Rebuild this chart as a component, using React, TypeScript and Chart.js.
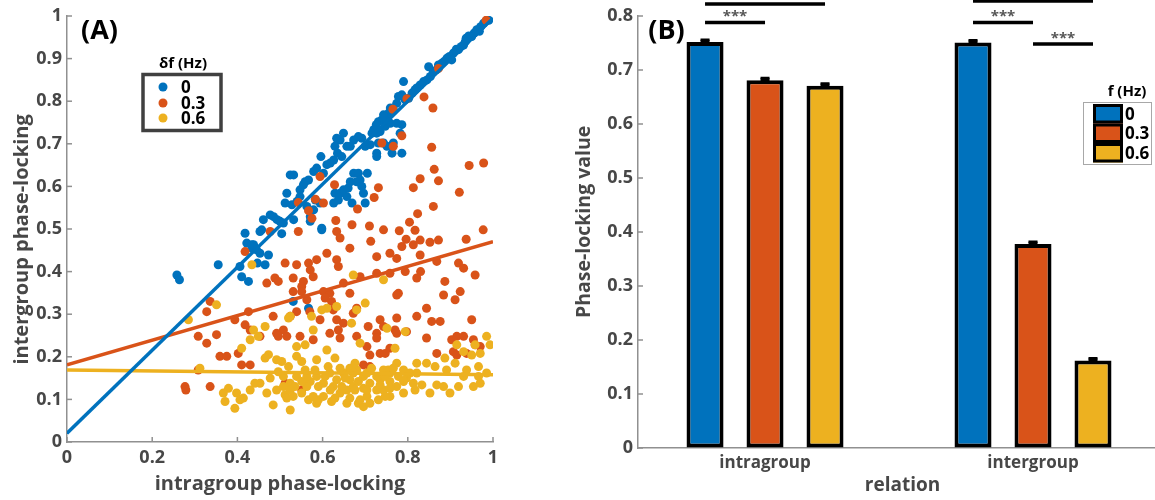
import React, { useEffect, useRef } from 'react';
import { Chart, registerables } from 'chart.js';
Chart.register(...registerables);

const FONT = '"Open Sans", "DejaVu Sans", sans-serif';
const TEXT_GRAY = '#474747';
const AXIS_GRAY = '#909090';
const BLUE = '#0072BD';
const RED = '#D95319';
const YELLOW = '#EDB120';

// ---------- Panel A data ----------
const seriesLabels = ['0', '0.3', '0.6'];
const legendTitleA = 'δf (Hz)';
const legendTitleB = 'f (Hz)';

const bluePts: [number, number][] = [
  [0.99,0.99],[0.986,0.99],[0.978,0.983],[0.971,0.975],[0.968,0.964],[0.962,0.968],[0.956,0.96],[0.95,0.952],[0.943,0.953],[0.937,0.948],
  [0.935,0.94],[0.931,0.932],[0.925,0.928],[0.919,0.921],[0.914,0.922],[0.907,0.913],[0.903,0.897],[0.898,0.905],[0.892,0.901],[0.885,0.893],
  [0.88,0.889],[0.872,0.885],[0.868,0.874],[0.86,0.87],[0.849,0.881],[0.853,0.858],[0.845,0.85],[0.837,0.846],[0.829,0.838],[0.821,0.831],
  [0.817,0.827],[0.81,0.819],[0.802,0.807],[0.794,0.803],[0.79,0.846],[0.786,0.815],[0.778,0.811],[0.774,0.795],[0.766,0.78],[0.759,0.784],
  [0.755,0.772],[0.751,0.764],[0.743,0.768],[0.739,0.756],[0.731,0.752],[0.726,0.745],[0.72,0.733],[0.716,0.725],[0.727,0.725],[0.735,0.729],
  [0.747,0.741],[0.759,0.748],[0.774,0.748],[0.786,0.745],[0.782,0.725],[0.766,0.702],[0.751,0.694],[0.743,0.702],[0.731,0.702],[0.727,0.678],
  [0.727,0.67],[0.763,0.678],[0.786,0.678],[0.712,0.698],[0.7,0.694],[0.692,0.713],[0.684,0.717],[0.673,0.709],[0.665,0.694],[0.657,0.694],
  [0.649,0.725],[0.641,0.709],[0.633,0.713],[0.629,0.694],[0.635,0.678],[0.645,0.67],[0.626,0.662],[0.618,0.655],[0.61,0.651],[0.602,0.631],
  [0.596,0.67],[0.586,0.643],[0.579,0.635],[0.567,0.615],[0.559,0.611],[0.555,0.604],[0.532,0.627],[0.524,0.627],[0.547,0.592],[0.516,0.584],
  [0.512,0.561],[0.528,0.557],[0.54,0.565],[0.547,0.576],[0.563,0.553],[0.571,0.529],[0.579,0.545],[0.583,0.568],[0.594,0.561],[0.626,0.561],
  [0.637,0.568],[0.629,0.584],[0.641,0.584],[0.649,0.592],[0.66,0.596],[0.665,0.611],[0.673,0.631],[0.684,0.631],[0.688,0.615],[0.68,0.611],
  [0.692,0.6],[0.696,0.584],[0.7,0.561],[0.705,0.631],[0.669,0.561],[0.657,0.576],[0.477,0.533],[0.485,0.529],[0.493,0.522],[0.5,0.518],
  [0.508,0.514],[0.461,0.522],[0.457,0.498],[0.438,0.463],[0.434,0.455],[0.532,0.522],[0.598,0.502],[0.571,0.518],[0.418,0.49],[0.453,0.494],
  [0.504,0.489],[0.422,0.467],[0.434,0.463],[0.445,0.451],[0.453,0.443],[0.473,0.439],[0.465,0.416],[0.447,0.42],[0.355,0.416],[0.258,0.392],
  [0.264,0.381],[0.406,0.412],[0.41,0.388],[0.426,0.377],[0.531,0.33],[0.567,0.314],[0.598,0.498],
];

const redPts: [number, number][] = [
  [0.984,0.99],[0.872,0.877],[0.798,0.806],[0.838,0.81],[0.859,0.784],[0.765,0.781],[0.786,0.719],[0.739,0.702],[0.766,0.694],[0.856,0.692],
  [0.944,0.649],[0.978,0.655],[0.862,0.64],[0.872,0.613],[0.829,0.618],[0.813,0.597],[0.921,0.586],[0.731,0.597],[0.721,0.574],[0.86,0.553],
  [0.823,0.536],[0.594,0.623],[0.628,0.604],[0.543,0.562],[0.583,0.57],[0.602,0.561],[0.567,0.543],[0.575,0.525],[0.682,0.547],[0.631,0.52],
  [0.669,0.51],[0.71,0.507],[0.743,0.498],[0.78,0.496],[0.804,0.516],[0.817,0.497],[0.796,0.476],[0.813,0.463],[0.829,0.474],[0.852,0.469],
  [0.872,0.474],[0.937,0.476],[0.977,0.498],[0.543,0.494],[0.633,0.494],[0.641,0.479],[0.713,0.471],[0.477,0.494],[0.664,0.455],[0.786,0.459],
  [0.61,0.443],[0.633,0.428],[0.637,0.412],[0.727,0.435],[0.758,0.443],[0.774,0.431],[0.829,0.439],[0.868,0.424],[0.919,0.42],[0.931,0.408],
  [0.958,0.392],[0.512,0.42],[0.539,0.416],[0.567,0.42],[0.586,0.428],[0.571,0.404],[0.578,0.388],[0.555,0.377],[0.531,0.385],[0.488,0.385],
  [0.496,0.377],[0.469,0.373],[0.551,0.365],[0.551,0.353],[0.531,0.353],[0.602,0.353],[0.617,0.349],[0.606,0.338],[0.621,0.33],[0.625,0.31],
  [0.664,0.349],[0.649,0.373],[0.688,0.388],[0.727,0.396],[0.758,0.396],[0.794,0.4],[0.83,0.4],[0.821,0.385],[0.887,0.377],[0.778,0.349],
  [0.774,0.345],[0.884,0.345],[0.911,0.334],[0.923,0.353],[0.844,0.314],[0.594,0.287],[0.633,0.287],[0.68,0.314],[0.649,0.279],[0.672,0.302],
  [0.735,0.287],[0.743,0.271],[0.774,0.291],[0.821,0.295],[0.856,0.283],[0.876,0.283],[0.95,0.287],[0.563,0.334],[0.57,0.306],[0.539,0.306],
  [0.524,0.295],[0.484,0.295],[0.426,0.306],[0.394,0.287],[0.418,0.275],[0.43,0.263],[0.453,0.248],[0.508,0.263],[0.516,0.248],[0.492,0.255],
  [0.496,0.248],[0.547,0.248],[0.578,0.24],[0.617,0.255],[0.637,0.263],[0.641,0.244],[0.68,0.248],[0.707,0.271],[0.727,0.255],[0.727,0.244],
  [0.77,0.263],[0.774,0.255],[0.797,0.259],[0.844,0.244],[0.903,0.24],[0.915,0.248],[0.931,0.248],[0.954,0.24],[0.958,0.228],[0.97,0.224],
  [0.704,0.224],[0.711,0.204],[0.735,0.208],[0.747,0.208],[0.758,0.22],[0.868,0.208],[0.907,0.212],[0.915,0.204],[0.938,0.208],[0.308,0.248],
  [0.328,0.232],[0.351,0.252],[0.336,0.33],[0.328,0.306],[0.359,0.201],[0.375,0.201],[0.402,0.208],[0.41,0.181],[0.43,0.181],[0.308,0.169],
  [0.277,0.13],[0.279,0.122],[0.336,0.13],[0.696,0.181],[0.711,0.177],[0.512,0.138],[0.551,0.122],[0.418,0.447],
];

const yellowPts: [number, number][] = [
  [0.285,0.287],[0.351,0.322],[0.434,0.416],[0.672,0.392],[0.743,0.381],[0.598,0.31],[0.61,0.314],[0.633,0.318],[0.7,0.326],[0.68,0.31],
  [0.574,0.295],[0.524,0.295],[0.52,0.291],[0.465,0.271],[0.438,0.263],[0.449,0.248],[0.578,0.263],[0.668,0.279],[0.751,0.267],[0.794,0.259],
  [0.43,0.24],[0.41,0.22],[0.539,0.224],[0.559,0.228],[0.61,0.216],[0.688,0.232],[0.77,0.22],[0.985,0.248],[0.993,0.228],[0.958,0.228],
  [0.931,0.212],[0.95,0.204],[0.97,0.208],[0.887,0.197],[0.911,0.185],[0.312,0.173],[0.473,0.205],[0.465,0.197],[0.492,0.193],[0.504,0.189],
  [0.539,0.201],[0.551,0.189],[0.586,0.193],[0.629,0.197],[0.664,0.173],[0.774,0.185],[0.821,0.185],[0.864,0.177],[0.966,0.177],[0.985,0.162],
  [0.97,0.138],[0.931,0.154],[0.891,0.169],[0.868,0.134],[0.884,0.13],[0.852,0.115],[0.899,0.115],[0.954,0.13],[0.821,0.162],[0.797,0.15],
  [0.79,0.115],[0.774,0.13],[0.758,0.162],[0.743,0.169],[0.735,0.146],[0.727,0.122],[0.743,0.122],[0.711,0.138],[0.696,0.154],[0.68,0.169],
  [0.664,0.146],[0.649,0.162],[0.633,0.146],[0.617,0.162],[0.602,0.138],[0.586,0.154],[0.571,0.142],[0.559,0.169],[0.539,0.154],[0.524,0.138],
  [0.508,0.154],[0.496,0.165],[0.477,0.15],[0.453,0.138],[0.441,0.138],[0.43,0.122],[0.469,0.115],[0.492,0.122],[0.512,0.111],[0.516,0.103],
  [0.531,0.107],[0.551,0.115],[0.567,0.099],[0.586,0.091],[0.59,0.099],[0.602,0.107],[0.629,0.103],[0.641,0.115],[0.664,0.103],[0.684,0.091],
  [0.696,0.083],[0.704,0.107],[0.379,0.126],[0.367,0.115],[0.371,0.095],[0.394,0.079],[0.398,0.115],[0.414,0.103],[0.406,0.099],[0.484,0.087],
  [0.524,0.075],[0.621,0.095],[0.657,0.091],[0.758,0.107],[0.696,0.126],[0.672,0.13],[0.625,0.13],[0.563,0.13],[0.508,0.13],[0.758,0.142],
  [0.79,0.169],[0.844,0.185],[0.938,0.169],[0.966,0.154],[0.919,0.13],[0.833,0.134],[0.813,0.138],[0.676,0.185],[0.613,0.177],[0.582,0.169],
  [0.52,0.177],[0.915,0.228],
  [0.641,0.173],[0.653,0.15],[0.672,0.162],[0.684,0.142],[0.704,0.162],[0.715,0.173],[0.727,0.154],[0.735,0.134],[0.747,0.154],[0.754,0.169],
  [0.766,0.173],[0.778,0.154],[0.79,0.142],[0.805,0.162],[0.817,0.122],[0.747,0.107],[0.731,0.099],[0.711,0.091],[0.688,0.099],[0.676,0.122],
  [0.657,0.122],[0.645,0.13],[0.618,0.122],[0.606,0.154],[0.59,0.13],[0.578,0.107],[0.563,0.154],[0.551,0.142],[0.535,0.13],[0.524,0.122],
  [0.704,0.122],[0.758,0.126],
];

// regression lines: [x, y] endpoints
const fitBlue: [number, number][] = [[0, 0.0205], [1, 0.995]];
const fitRed: [number, number][] = [[0, 0.181], [1, 0.47]];
const fitYellow: [number, number][] = [[0, 0.169], [1, 0.158]];

// ---------- Panel B data ----------
const relations = ['intragroup', 'intergroup'];
const relationPos = [1, 2];
const plvF0 = [0.752, 0.751];
const plvF03 = [0.681, 0.378];
const plvF06 = [0.671, 0.162];
const errF0 = [0.004, 0.004];
const errF03 = [0.004, 0.004];
const errF06 = [0.004, 0.004];
// significance brackets: [relation index, bar from, bar to, y level, label]
const sigBrackets: [number, number, number, number, string][] = [
  [0, 0, 2, 0.822, ''],
  [0, 0, 1, 0.788, '***'],
  [1, 0, 2, 0.828, ''],
  [1, 0, 1, 0.788, '***'],
  [1, 1, 2, 0.748, '***'],
];

const fmtTick = (v: number) => String(Math.round(v * 10) / 10);
const toXY = (arr: [number, number][]) => arr.map(([x, y]) => ({ x, y }));

const inwardTicks = (axes: string[]) => ({
  id: 'inwardTicks',
  afterDraw(chart: any) {
    const { ctx, chartArea } = chart;
    ctx.save();
    ctx.strokeStyle = AXIS_GRAY;
    ctx.lineWidth = 1.5;
    axes.forEach((id) => {
      const s = chart.scales[id];
      s.ticks.forEach((t: any) => {
        const p = s.getPixelForValue(t.value);
        ctx.beginPath();
        if (id === 'y') {
          ctx.moveTo(chartArea.left, p);
          ctx.lineTo(chartArea.left + 5, p);
        } else {
          ctx.moveTo(p, chartArea.bottom);
          ctx.lineTo(p, chartArea.bottom - 5);
        }
        ctx.stroke();
      });
    });
    ctx.restore();
  },
});

const panelAExtras = {
  id: 'panelAExtras',
  afterDraw(chart: any) {
    const ctx = chart.ctx;
    ctx.save();
    ctx.fillStyle = '#000';
    ctx.font = `bold 27px ${FONT}`;
    ctx.textAlign = 'center';
    ctx.textBaseline = 'middle';
    ctx.fillText('(A)', 99.5, 31);
    // legend
    ctx.font = `bold 15px ${FONT}`;
    ctx.fillText(legendTitleA, 183, 64);
    ctx.strokeStyle = '#404040';
    ctx.lineWidth = 3.5;
    ctx.strokeRect(143, 74.5, 78, 56);
    const entries = [
      { label: seriesLabels[0], color: BLUE },
      { label: seriesLabels[1], color: RED },
      { label: seriesLabels[2], color: YELLOW },
    ];
    const rows = [87, 103, 118];
    ctx.font = `bold 17px ${FONT}`;
    ctx.textAlign = 'left';
    entries.forEach((e, i) => {
      ctx.fillStyle = e.color;
      ctx.beginPath();
      ctx.arc(163, rows[i], 4.5, 0, Math.PI * 2);
      ctx.fill();
      ctx.fillStyle = '#000';
      ctx.fillText(e.label, 181, rows[i] + 1);
    });
    ctx.restore();
  },
};

const panelBExtras = {
  id: 'panelBExtras',
  afterDraw(chart: any) {
    const ctx = chart.ctx;
    const yS = chart.scales.y;
    const errs = [errF0, errF03, errF06];
    ctx.save();
    // error bars
    ctx.strokeStyle = '#000';
    ctx.lineWidth = 2.5;
    chart.data.datasets.forEach((ds: any, i: number) => {
      const meta = chart.getDatasetMeta(i);
      meta.data.forEach((bar: any, j: number) => {
        const v = ds.data[j].y;
        const e = errs[i][j];
        const x = bar.x;
        const y1 = yS.getPixelForValue(v - e);
        const y2 = yS.getPixelForValue(v + e);
        ctx.beginPath();
        ctx.moveTo(x, y1); ctx.lineTo(x, y2);
        ctx.moveTo(x - 4.5, y1); ctx.lineTo(x + 4.5, y1);
        ctx.moveTo(x - 4.5, y2); ctx.lineTo(x + 4.5, y2);
        ctx.stroke();
        ctx.fillStyle = '#000';
        ctx.fillRect(x - 4.5, y2, 9, y1 - y2);
      });
    });
    // significance brackets
    sigBrackets.forEach(([rel, a, b, lvl, lab]) => {
      const xa = chart.getDatasetMeta(a).data[rel].x;
      const xb = chart.getDatasetMeta(b).data[rel].x;
      const y = yS.getPixelForValue(lvl);
      ctx.strokeStyle = '#000';
      ctx.lineWidth = 3.5;
      ctx.beginPath();
      ctx.moveTo(xa, y); ctx.lineTo(xb, y);
      ctx.stroke();
      if (lab) {
        ctx.fillStyle = '#555';
        ctx.font = `bold 15px ${FONT}`;
        ctx.textAlign = 'center';
        ctx.textBaseline = 'alphabetic';
        ctx.fillText(lab, (xa + xb) / 2, y - 1);
      }
    });
    // panel label
    ctx.fillStyle = '#000';
    ctx.font = `bold 27px ${FONT}`;
    ctx.textAlign = 'center';
    ctx.textBaseline = 'middle';
    ctx.fillText('(B)', 106.5, 31);
    // legend
    ctx.font = `bold 15px ${FONT}`;
    ctx.fillText(legendTitleB, 567, 92);
    ctx.strokeStyle = '#a8a8a8';
    ctx.lineWidth = 1;
    ctx.strokeRect(523.5, 102.5, 68, 62);
    const top = 104;
    const h = 19.5;
    ctx.font = `bold 17px ${FONT}`;
    ctx.textAlign = 'left';
    chart.data.datasets.forEach((ds: any, i: number) => {
      const y0 = top + i * h;
      ctx.fillStyle = ds.backgroundColor;
      ctx.fillRect(533, y0, 30, h);
      ctx.strokeStyle = '#000';
      ctx.lineWidth = 3;
      ctx.strokeRect(534.5, y0 + 1.5, 27, h - 3);
      ctx.fillStyle = '#000';
      ctx.fillText(ds.label, 565, y0 + h / 2 + 1);
    });
    ctx.restore();
  },
};

const tickFont = { family: FONT, size: 18, weight: 'bold' as const };

export default function App() {
  const refA = useRef<HTMLCanvasElement>(null);
  const refB = useRef<HTMLCanvasElement>(null);

  useEffect(() => {
    const chartA = new Chart(refA.current as HTMLCanvasElement, {
      type: 'scatter',
      data: {
        datasets: [
          { type: 'line', label: 'fit0', data: toXY(fitBlue), borderColor: BLUE, borderWidth: 3.5, pointRadius: 0, fill: false, order: 0 } as any,
          { type: 'line', label: 'fit0.3', data: toXY(fitRed), borderColor: RED, borderWidth: 3.5, pointRadius: 0, fill: false, order: 1 } as any,
          { type: 'line', label: 'fit0.6', data: toXY(fitYellow), borderColor: YELLOW, borderWidth: 3.5, pointRadius: 0, fill: false, order: 2 } as any,
          { label: seriesLabels[2], data: toXY(yellowPts), backgroundColor: YELLOW, pointRadius: 4.5, borderWidth: 0, order: 3 },
          { label: seriesLabels[1], data: toXY(redPts), backgroundColor: RED, pointRadius: 4.5, borderWidth: 0, order: 4 },
          { label: seriesLabels[0], data: toXY(bluePts), backgroundColor: BLUE, pointRadius: 4.5, borderWidth: 0, order: 5 },
        ],
      },
      options: {
        responsive: false,
        animation: false,
        devicePixelRatio: 1,
        layout: { padding: { top: 16, right: 67, left: 0, bottom: 0 } },
        plugins: { legend: { display: false }, tooltip: { enabled: false } },
        events: [],
        scales: {
          x: {
            type: 'linear', min: 0, max: 1,
            afterFit: (s: any) => { s.height = 58; },
            ticks: { stepSize: 0.2, padding: 5, color: TEXT_GRAY, font: tickFont, callback: (v: any) => fmtTick(Number(v)) },
            grid: { drawOnChartArea: false, drawTicks: false },
            border: { color: AXIS_GRAY, width: 1.5 },
            title: { display: true, text: 'intragroup phase-locking', color: TEXT_GRAY, font: { family: FONT, size: 20, weight: 'bold' }, padding: { top: 0, bottom: 4 } },
          },
          y: {
            type: 'linear', min: 0, max: 1,
            afterFit: (s: any) => { s.width = 67; },
            ticks: { stepSize: 0.1, padding: 5, color: TEXT_GRAY, font: tickFont, callback: (v: any) => fmtTick(Number(v)) },
            grid: { drawOnChartArea: false, drawTicks: false },
            border: { color: AXIS_GRAY, width: 1.5 },
            title: { display: true, text: 'intergroup phase-locking    ', color: TEXT_GRAY, font: { family: FONT, size: 20, weight: 'bold' }, padding: { top: 10, bottom: 0 } },
          },
        },
      } as any,
      plugins: [inwardTicks(['x', 'y']), panelAExtras],
    });

    const vals = [plvF0, plvF03, plvF06];
    const colors = [BLUE, RED, YELLOW];
    const chartB = new Chart(refB.current as HTMLCanvasElement, {
      type: 'bar',
      data: {
        datasets: seriesLabels.map((lab, i) => ({
          label: lab,
          data: relationPos.map((p, j) => ({ x: p, y: vals[i][j] })),
          backgroundColor: colors[i],
          borderColor: '#000',
          borderWidth: 4,
          borderSkipped: false,
          categoryPercentage: 0.6716,
          barPercentage: 0.617,
        })) as any,
      },
      options: {
        responsive: false,
        animation: false,
        devicePixelRatio: 1,
        layout: { padding: { top: 16, right: 0, left: 0, bottom: 0 } },
        plugins: { legend: { display: false }, tooltip: { enabled: false } },
        events: [],
        scales: {
          x: {
            type: 'linear', min: 0.526, max: 2.5, offset: false,
            afterFit: (s: any) => { s.height = 52; },
            afterBuildTicks: (s: any) => { s.ticks = relationPos.map((v) => ({ value: v })); },
            ticks: { padding: 5, color: TEXT_GRAY, font: { family: FONT, size: 17, weight: 'bold' }, callback: (_v: any, i: number) => relations[i] },
            grid: { drawOnChartArea: false, drawTicks: false },
            border: { color: AXIS_GRAY, width: 1.5 },
            title: { display: true, text: 'relation', color: TEXT_GRAY, font: { family: FONT, size: 19, weight: 'bold' }, padding: { top: 0, bottom: 3 } },
          },
          y: {
            type: 'linear', min: 0, max: 0.8,
            afterFit: (s: any) => { s.width = 78; },
            ticks: { stepSize: 0.1, padding: 5, color: TEXT_GRAY, font: tickFont, callback: (v: any) => fmtTick(Number(v)) },
            grid: { drawOnChartArea: false, drawTicks: false },
            border: { color: AXIS_GRAY, width: 1.5 },
            title: { display: true, text: '    Phase-locking value', color: TEXT_GRAY, font: { family: FONT, size: 19.5, weight: 'bold' }, padding: { top: 13, bottom: 0 } },
          },
        },
      } as any,
      plugins: [inwardTicks(['y']), panelBExtras],
    });

    return () => {
      chartA.destroy();
      chartB.destroy();
    };
  }, []);

  return (
    <div style={{ position: 'absolute', left: 0, top: 0, width: 1155, height: 500, overflow: 'hidden', background: '#fff' }}>
      <canvas ref={refA} width={560} height={500} style={{ position: 'absolute', left: 0, top: 0, width: 560, height: 500, display: 'block' }} />
      <canvas ref={refB} width={607} height={500} style={{ position: 'absolute', left: 560, top: 0, width: 607, height: 500, display: 'block' }} />
    </div>
  );
}
